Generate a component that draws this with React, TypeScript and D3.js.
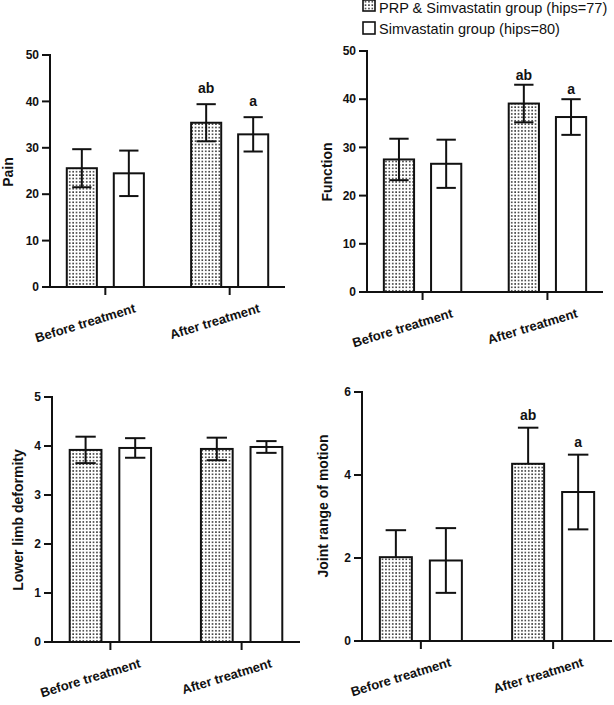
import React from "react";
import * as d3 from "d3";

const groups = ["Before treatment", "After treatment"];
const seriesNames = ["PRP & Simvastatin group (hips=77)", "Simvastatin group (hips=80)"];

const painPRP = [25.6, 35.4];
const painPRPsd = [4.1, 4.0];
const painSim = [24.5, 32.9];
const painSimSd = [4.9, 3.7];

const funcPRP = [27.5, 39.1];
const funcPRPsd = [4.3, 3.9];
const funcSim = [26.6, 36.3];
const funcSimSd = [5.0, 3.7];

const limbPRP = [3.92, 3.94];
const limbPRPsd = [0.27, 0.23];
const limbSim = [3.96, 3.98];
const limbSimSd = [0.2, 0.12];

const jointPRP = [2.02, 4.27];
const jointPRPsd = [0.65, 0.87];
const jointSim = [1.94, 3.59];
const jointSimSd = [0.78, 0.9];

const sigPRP = ["", "ab"];
const sigSim = ["", "a"];
const noSig = ["", ""];

const painTicks = [0, 10, 20, 30, 40, 50];
const funcTicks = [0, 10, 20, 30, 40, 50];
const limbTicks = [0, 1, 2, 3, 4, 5];
const jointTicks = [0, 2, 4, 6];

const FONT = "'Liberation Sans', Arial, Helvetica, sans-serif";

type PanelCfg = {
  title: string;
  axisX: number;
  xEnd: number;
  yTop: number;
  y0: number;
  max: number;
  ticks: number[];
  titleX: number;
  titleY: number;
  means: number[][];
  sds: number[][];
  sigs: string[][];
  sigOffset: number;
  hideLowerOnPattern: boolean;
};

const panels: PanelCfg[] = [
  {
    title: "Pain", axisX: 50, xEnd: 285, yTop: 55, y0: 287, max: 50, ticks: painTicks,
    titleX: 13, titleY: 172,
    means: [painPRP, painSim], sds: [painPRPsd, painSimSd], sigs: [sigPRP, sigSim],
    sigOffset: 11, hideLowerOnPattern: false,
  },
  {
    title: "Function", axisX: 367, xEnd: 603, yTop: 51, y0: 292, max: 50, ticks: funcTicks,
    titleX: 332, titleY: 172,
    means: [funcPRP, funcSim], sds: [funcPRPsd, funcSimSd], sigs: [sigPRP, sigSim],
    sigOffset: 5, hideLowerOnPattern: false,
  },
  {
    title: "Lower limb deformity", axisX: 52, xEnd: 300, yTop: 397, y0: 642, max: 5, ticks: limbTicks,
    titleX: 23, titleY: 520,
    means: [limbPRP, limbSim], sds: [limbPRPsd, limbSimSd], sigs: [noSig, noSig],
    sigOffset: 6, hideLowerOnPattern: false,
  },
  {
    title: "Joint range of motion", axisX: 362, xEnd: 612, yTop: 392, y0: 641, max: 6, ticks: jointTicks,
    titleX: 328, titleY: 506,
    means: [jointPRP, jointSim], sds: [jointPRPsd, jointSimSd], sigs: [sigPRP, sigSim],
    sigOffset: 8, hideLowerOnPattern: true,
  },
];

const INK = "#111";
const SW = 2;

function Panel({ cfg }: { cfg: PanelCfg }) {
  const y = d3.scaleLinear().domain([0, cfg.max]).range([cfg.y0, cfg.yTop]);
  const x0 = d3.scaleBand<string>().domain(groups).range([cfg.axisX, cfg.xEnd]).paddingInner(0.38).paddingOuter(0.135);
  const x1 = d3.scaleBand<number>().domain([0, 1]).range([0, x0.bandwidth()]).paddingInner(0.36).paddingOuter(0);
  const bw = x1.bandwidth();
  const capW = bw * 0.64;

  return (
    <g>
      {groups.map((g, gi) =>
        [0, 1].map((s) => {
          const v = cfg.means[s][gi];
          const sd = cfg.sds[s][gi];
          const bx = (x0(g) as number) + (x1(s) as number);
          const cx = bx + bw / 2;
          const top = y(v);
          const hi = y(v + sd);
          const lo = y(v - sd);
          const showLow = !(cfg.hideLowerOnPattern && s === 0);
          const sig = cfg.sigs[s][gi];
          return (
            <g key={`${gi}-${s}`}>
              <rect x={bx} y={top} width={bw} height={cfg.y0 - top}
                fill={s === 0 ? "url(#dots)" : "#fff"} stroke={INK} strokeWidth={SW} />
              <line x1={cx} x2={cx} y1={hi} y2={showLow ? lo : top} stroke={INK} strokeWidth={SW} />
              <line x1={cx - capW / 2} x2={cx + capW / 2} y1={hi} y2={hi} stroke={INK} strokeWidth={SW} />
              {showLow && (
                <line x1={cx - capW / 2} x2={cx + capW / 2} y1={lo} y2={lo} stroke={INK} strokeWidth={SW} />
              )}
              {sig && (
                <text x={cx} y={hi - cfg.sigOffset} textAnchor="middle" fontFamily={FONT}
                  fontWeight="bold" fontSize={14} fill={INK}>{sig}</text>
              )}
            </g>
          );
        })
      )}
      <line x1={cfg.axisX} x2={cfg.axisX} y1={cfg.yTop - 1} y2={cfg.y0 + 1} stroke={INK} strokeWidth={SW} />
      {cfg.ticks.map((t) => (
        <g key={t}>
          <line x1={cfg.axisX - 8} x2={cfg.axisX} y1={y(t)} y2={y(t)} stroke={INK} strokeWidth={SW} />
          <text x={cfg.axisX - 11} y={y(t) + 4.2} textAnchor="end" fontFamily={FONT}
            fontWeight="bold" fontSize={12} fill={INK}>{t}</text>
        </g>
      ))}
      <line x1={cfg.axisX - 1} x2={cfg.xEnd} y1={cfg.y0} y2={cfg.y0} stroke={INK} strokeWidth={SW} />
      {groups.map((g) => {
        const cx = (x0(g) as number) + x0.bandwidth() / 2;
        return (
          <g key={g}>
            <line x1={cx} x2={cx} y1={cfg.y0} y2={cfg.y0 + 8} stroke={INK} strokeWidth={SW} />
            <text transform={`translate(${cx + 31},${cfg.y0 + 25}) rotate(-17)`} textAnchor="end"
              fontFamily={FONT} fontWeight="bold" fontSize={13} fill={INK}>{g}</text>
          </g>
        );
      })}
      <text transform={`translate(${cfg.titleX},${cfg.titleY}) rotate(-90)`} textAnchor="middle"
        fontFamily={FONT} fontWeight="bold" fontSize={14} fill={INK}>{cfg.title}</text>
    </g>
  );
}

export default function App() {
  return (
    <svg width={614} height={705} style={{ position: "absolute", left: 0, top: 0, background: "#fff" }}>
      <defs>
        <pattern id="dots" width={3.4} height={3.4} patternUnits="userSpaceOnUse">
          <rect width={3.4} height={3.4} fill="#fff" />
          <rect x={1} y={1} width={1.5} height={1.5} fill="#222" />
        </pattern>
      </defs>
      <rect width={614} height={705} fill="#fff" />
      {panels.map((p) => <Panel key={p.title} cfg={p} />)}
      {seriesNames.map((name, i) => (
        <g key={name}>
          <rect x={363} y={i === 0 ? 0 : 22} width={12} height={i === 0 ? 11 : 12}
            fill={i === 0 ? "url(#dots)" : "#fff"} stroke={INK} strokeWidth={1.6} />
          <text x={379} y={i === 0 ? 12.5 : 34} fontFamily={FONT} fontSize={14.5} fill={INK}>{name}</text>
        </g>
      ))}
    </svg>
  );
}
